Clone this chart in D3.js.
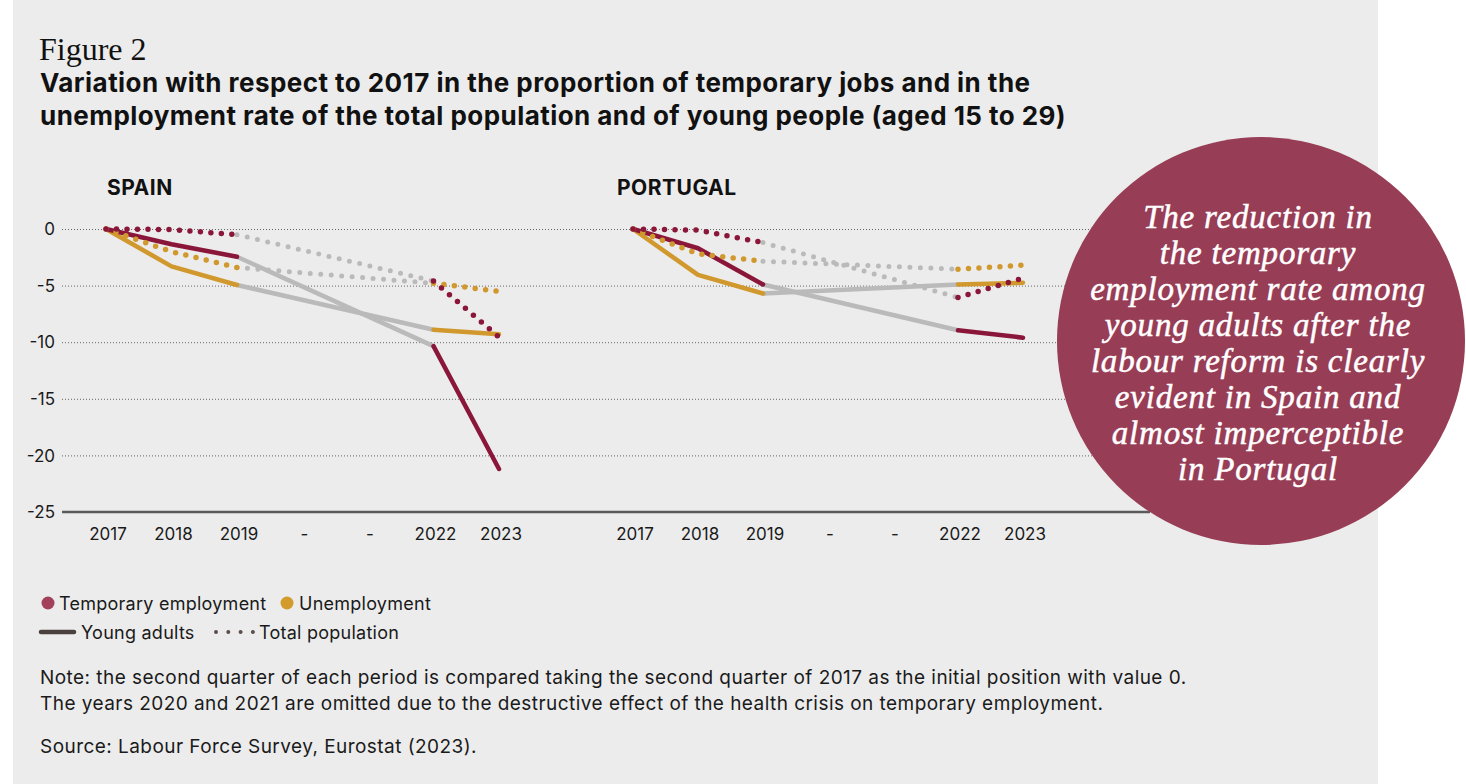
<!DOCTYPE html>
<html>
<head>
<meta charset="utf-8">
<script src="https://cdn.jsdelivr.net/npm/d3@7"></script>
<style>
  html, body { margin: 0; padding: 0; background: #fff; }
  svg { display: block; }
  .sans { font-family: Inter, "Open Sans", sans-serif; }
  .grid-line line { stroke: #666; stroke-dasharray: 1 2; stroke-width: 1; }
  .grid-line path { display: none; }
</style>
</head>
<body>
<div id="chart"></div>
<script>
// ---- data ----
const years = ["2017", "2018", "2019", "2020", "2021", "2022", "2023"];
const tickLabels = ["2017", "2018", "2019", "-", "-", "2022", "2023"];
const yTicks = [0, -5, -10, -15, -20, -25];

// Spain (variation vs 2017, percentage points)
const spainTempYoung  = [0, -1.35, -2.45, null, null, -10.35, -21.2];
const spainUnempYoung = [0, -3.3, -4.95, null, null, -8.9, -9.3];
const spainTempTotal  = [0, -0.05, -0.5, null, null, -4.6, -9.55];
const spainUnempTotal = [0, -2.0, -3.4, null, null, -4.8, -5.5];

// Portugal
const portTempYoung  = [0, -1.7, -4.9, null, null, -8.95, -9.6];
const portUnempYoung = [0, -4.05, -5.7, null, null, -4.9, -4.75];
const portTempTotal  = [0, -0.1, -1.2, null, null, -6.05, -4.35];
const portUnempTotal = [0, -2.2, -2.85, null, null, -3.55, -3.2];

const noteLines = [
  "Note: the second quarter of each period is compared taking the second quarter of 2017 as the initial position with value 0.",
  "The years 2020 and 2021 are omitted due to the destructive effect of the health crisis on temporary employment."
];
const sourceText = "Source: Labour Force Survey, Eurostat (2023).";
const calloutLines = [
  "The reduction in", "the temporary", "employment rate among", "young adults after the",
  "labour reform is clearly", "evident in Spain and", "almost imperceptible", "in Portugal"
];

// ---- layout ----
const width = 1466, height = 784;
const RED = "#8a1739", ORANGE = "#d1992d", GREY = "#bababa";

const svg = d3.select("#chart").append("svg")
  .attr("width", width).attr("height", height);

svg.append("rect")
  .attr("x", 13).attr("y", 0)
  .attr("width", 1365).attr("height", height)
  .attr("fill", "#ececec");

// Titles
svg.append("text")
  .attr("x", 39).attr("y", 60)
  .style("font-family", "'Liberation Serif', serif")
  .style("font-size", "32px")
  .attr("fill", "#111")
  .text("Figure 2");

svg.append("text").attr("class", "sans")
  .attr("x", 40).attr("y", 92)
  .style("font-size", "26px").style("font-weight", "700")
  .style("letter-spacing", "0.45px")
  .attr("fill", "#111")
  .text("Variation with respect to 2017 in the proportion of temporary jobs and in the");
svg.append("text").attr("class", "sans")
  .attr("x", 40).attr("y", 125)
  .style("font-size", "26px").style("font-weight", "700")
  .style("letter-spacing", "0.45px")
  .attr("fill", "#111")
  .text("unemployment rate of the total population and of young people (aged 15 to 29)");

// Shared y scale
const yScale = d3.scaleLinear().domain([-25, 0]).range([512, 229]);
const gridLeft = 62, gridRight = 1150;

svg.append("g")
  .attr("class", "grid-line")
  .attr("transform", `translate(${gridLeft},0)`)
  .call(d3.axisLeft(yScale).tickValues(yTicks.filter(d => d !== -25))
    .tickSize(-(gridRight - gridLeft)).tickFormat(""));

// y labels
svg.append("g").selectAll("text")
  .data(yTicks).enter().append("text")
  .attr("class", "sans")
  .attr("x", 55).attr("y", d => yScale(d))
  .attr("dy", "0.36em")
  .attr("text-anchor", "end")
  .style("font-size", "17px")
  .attr("fill", "#1a1a1a")
  .text(d => d);

// baseline axis
svg.append("line")
  .attr("x1", gridLeft).attr("x2", gridRight)
  .attr("y1", yScale(-25)).attr("y2", yScale(-25))
  .attr("stroke", "#5a5a5a").attr("stroke-width", 2.5);

function drawPanel(name, titleX, range, series) {
  const xScale = d3.scalePoint().domain(years).range(range);
  const g = svg.append("g");

  g.append("text").attr("class", "sans")
    .attr("x", titleX).attr("y", 195)
    .style("font-size", "21px").style("font-weight", "700")
    .style("letter-spacing", "0.5px")
    .attr("fill", "#111")
    .text(name);

  g.selectAll(".xlab")
    .data(years).enter().append("text")
    .attr("class", "sans")
    .attr("x", d => xScale(d) + 2).attr("y", 540)
    .attr("text-anchor", "middle")
    .style("font-size", "17px")
    .attr("fill", "#1a1a1a")
    .text((d, i) => tickLabels[i]);

  const line = d3.line()
    .defined(d => d.v !== null)
    .x(d => xScale(d.year))
    .y(d => yScale(d.v));

  const toPts = vals => vals.map((v, i) => ({ year: years[i], v }));

  // grey bridge over omitted years (2019 -> 2022)
  series.forEach(s => {
    const pts = [{ year: "2019", v: s.values[2] }, { year: "2022", v: s.values[5] }];
    g.append("path")
      .attr("d", line(pts))
      .attr("fill", "none")
      .attr("stroke", GREY)
      .attr("stroke-width", s.dotted ? 5 : 4.5)
      .attr("stroke-linecap", "round")
      .attr("stroke-dasharray", s.dotted ? "0 10.5" : null);
  });

  // coloured segments: solid first, dotted on top
  const ordered = series.filter(s => !s.dotted).concat(series.filter(s => s.dotted));
  ordered.forEach(s => {
    g.append("path")
      .attr("d", line(toPts(s.values)))
      .attr("fill", "none")
      .attr("stroke", s.color)
      .attr("stroke-width", s.dotted ? 5.5 : 4.5)
      .attr("stroke-linecap", "round")
      .attr("stroke-linejoin", "round")
      .attr("stroke-dasharray", s.dotted ? "0 10.5" : null);
  });
}

drawPanel("SPAIN", 107, [106, 499], [
  { values: spainUnempYoung, color: ORANGE, dotted: false },
  { values: spainTempYoung, color: RED, dotted: false },
  { values: spainUnempTotal, color: ORANGE, dotted: true },
  { values: spainTempTotal, color: RED, dotted: true }
]);

drawPanel("PORTUGAL", 617, [633, 1023], [
  { values: portUnempYoung, color: ORANGE, dotted: false },
  { values: portTempYoung, color: RED, dotted: false },
  { values: portUnempTotal, color: ORANGE, dotted: true },
  { values: portTempTotal, color: RED, dotted: true }
]);

// Callout bubble
svg.append("circle")
  .attr("cx", 1261).attr("cy", 341).attr("r", 204)
  .attr("fill", "#983d56");

svg.append("g").selectAll("text")
  .data(calloutLines).enter().append("text")
  .attr("x", 1258).attr("y", (d, i) => 228 + i * 36)
  .attr("text-anchor", "middle")
  .style("font-family", "'Liberation Serif', serif")
  .style("font-style", "italic")
  .style("font-size", "33px")
  .style("letter-spacing", "0.8px")
  .attr("fill", "#fff")
  .attr("stroke", "#fff").attr("stroke-width", 0.5)
  .text(d => d);

// Legend
const legend = svg.append("g").attr("class", "sans")
  .style("font-size", "18px").style("letter-spacing", "0.25px");
legend.append("circle").attr("cx", 48).attr("cy", 603).attr("r", 6.5).attr("fill", "#a3405b");
legend.append("text").attr("x", 59).attr("y", 609.5).attr("fill", "#1a1a1a")
  .text("Temporary employment");
legend.append("circle").attr("cx", 287).attr("cy", 603).attr("r", 6.5).attr("fill", "#d39a2c");
legend.append("text").attr("x", 299).attr("y", 609.5).attr("fill", "#1a1a1a")
  .text("Unemployment");
legend.append("line").attr("x1", 41).attr("x2", 74).attr("y1", 632).attr("y2", 632)
  .attr("stroke", "#4a403e").attr("stroke-width", 4.5).attr("stroke-linecap", "round");
legend.append("text").attr("x", 81).attr("y", 639).attr("fill", "#1a1a1a")
  .text("Young adults");
legend.append("line").attr("x1", 216).attr("x2", 253).attr("y1", 632).attr("y2", 632)
  .attr("stroke", "#5a4d4a").attr("stroke-width", 4).attr("stroke-linecap", "round")
  .attr("stroke-dasharray", "0 12.3");
legend.append("text").attr("x", 259).attr("y", 639).attr("fill", "#1a1a1a")
  .text("Total population");

// Notes
const notes = svg.append("g").attr("class", "sans")
  .style("font-size", "19px").style("letter-spacing", "0.45px");
noteLines.forEach((t, i) => {
  notes.append("text").attr("x", 40).attr("y", 684 + i * 26)
    .attr("fill", "#1a1a1a").text(t);
});
notes.append("text").attr("x", 40).attr("y", 753)
  .attr("fill", "#1a1a1a").text(sourceText);
</script>
</body>
</html>
